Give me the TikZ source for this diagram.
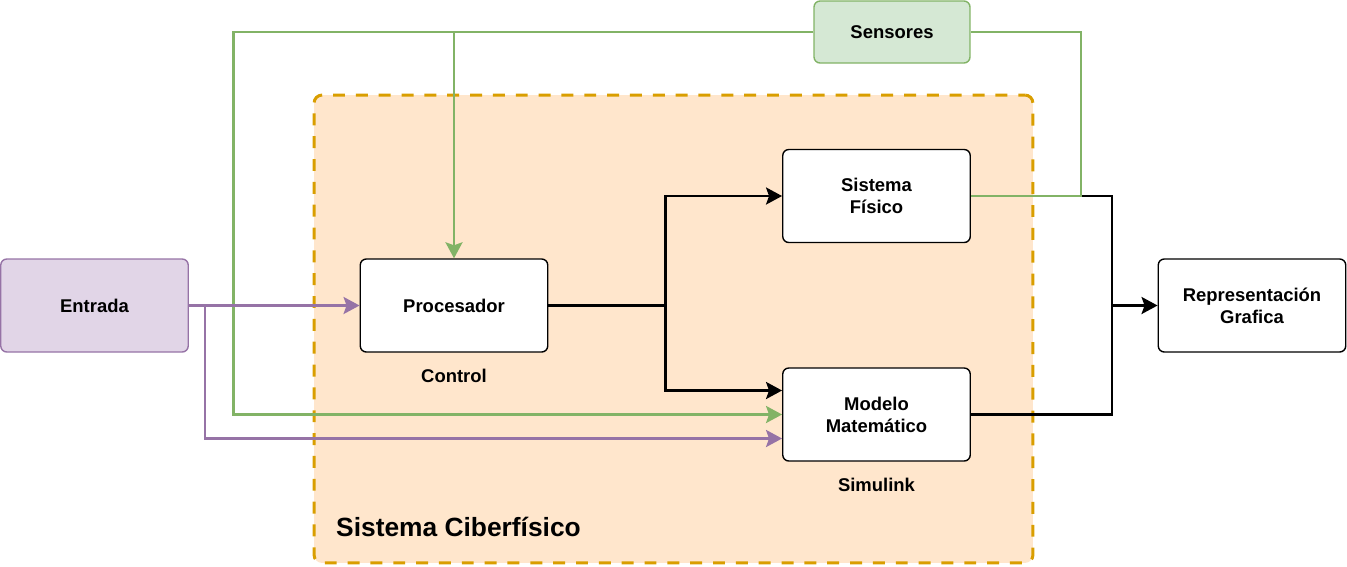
\documentclass[tikz,border=0pt]{standalone}
\usepackage{fontspec}
\setmainfont{Liberation Sans}
\usetikzlibrary{arrows.meta,positioning,calc}
\definecolor{cpsfill}{HTML}{FFE6CC}
\definecolor{cpsline}{HTML}{D99E00}
\definecolor{sensfill}{HTML}{D5E8D4}
\definecolor{sensline}{HTML}{82B366}
\definecolor{entfill}{HTML}{E1D5E7}
\definecolor{entline}{HTML}{9673A6}

\begin{document}
\begin{tikzpicture}[x=0.02cm, y=-0.02cm, >={Stealth[length=3.2mm,width=3.4mm,inset=0.6mm]},
    font=\fontsize{10.5}{12.5}\selectfont\bfseries,
    block/.style={draw, rounded corners=0.12cm, line width=0.8pt, fill=white, align=center,
        minimum width=3.75cm, minimum height=1.86cm},
    bwire/.style={->, line width=1.5pt, black},
    gwire/.style={->, line width=1.5pt, sensline},
    pwire/.style={->, line width=1.5pt, entline}]

    \useasboundingbox (0,0) rectangle (1347,566);

    % Container
    \node (cps) [draw=cpsline, fill=cpsfill, dash pattern=on 6.8pt off 6.2pt, dash phase=3pt, line width=1.7pt,
        rounded corners=0.16cm, minimum width=14.38cm, minimum height=9.36cm] at (673.5,329) {};
    \node[anchor=west, font=\fontsize{15}{18}\selectfont\bfseries] (cpslabel) at (330,527) {Sistema Ciberfísico};

    % Nodes
    \node (sens) [block, fill=sensfill, draw=sensline, minimum width=3.12cm, minimum height=1.24cm] at (892,32) {Sensores};
    \node (fis) [block] at (876.5,196) {Sistema\\Físico};
    \node (proc) [block] at (454,305.5) {Procesador};
    \node (mod) [block] at (876.5,414.5) {Modelo\\Matemático};
    \node (ent) [block, fill=entfill, draw=entline] at (94.5,305.5) {Entrada};
    \node (rep) [block] at (1252,305.5) {Representación\\Grafica};

    % Labels
    \node[below=0.2cm of proc] (ctl) {Control};
    \node[below=0.2cm of mod] (sim) {Simulink};

    % Control outputs
    \draw[bwire] (proc.east) -- ++(117,0) coordinate (split) |- (fis.west);
    \draw[bwire] (split) |- ($(mod.west)+(0,-24)$);

    % Outputs to representation
    \draw[bwire] (fis.east) -- ++(141,0) coordinate (join) |- (rep.west);
    \draw[bwire, -] (mod.east) -| (join |- rep.west);

    % Sensor feedback
    \draw[gwire, -] (fis.east) -- ++(110,0) |- (sens.east);
    \draw[gwire] (sens.west) -- ++(-580,0) |- (mod.west);
    \draw[gwire] (proc.north |- sens.west) -- (proc.north);

    % Input
    \draw[pwire] (ent.east) -- (proc.west);
    \draw[pwire] ($(ent.east)+(16,0)$) |- ($(mod.west)+(0,24)$);

\end{tikzpicture}
\end{document}
